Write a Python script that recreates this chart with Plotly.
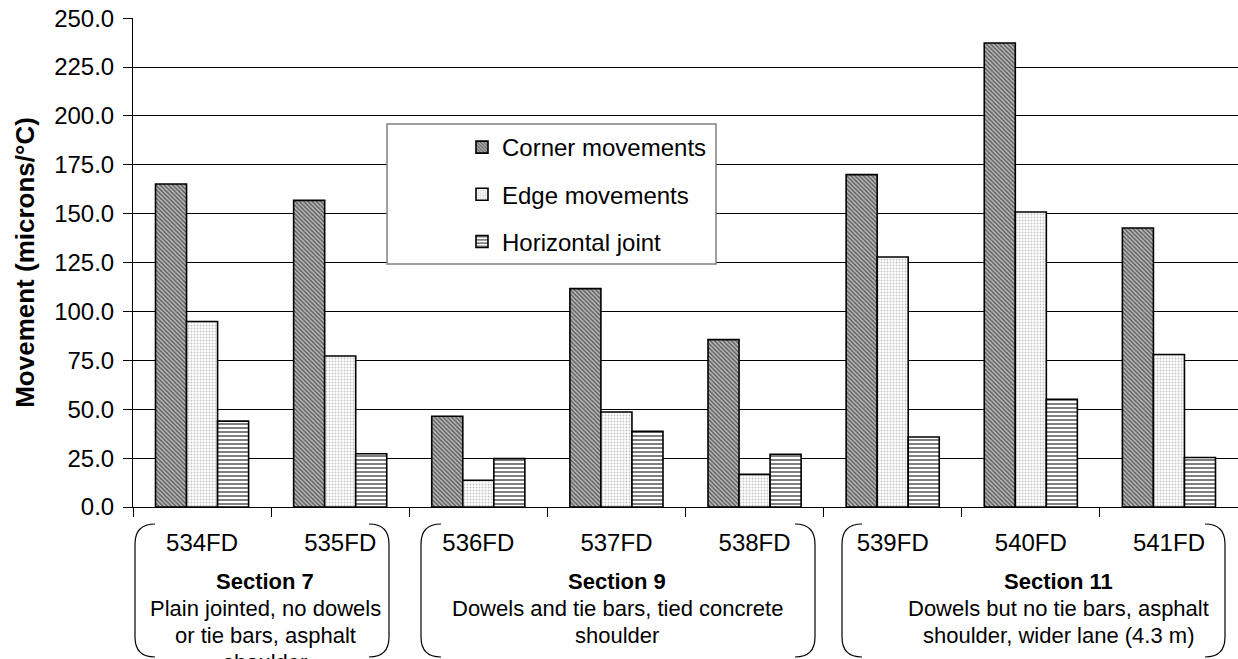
import plotly.graph_objects as go

categories = ["534FD", "535FD", "536FD", "537FD", "538FD", "539FD", "540FD", "541FD"]
corner = [165.2, 156.8, 46.4, 111.7, 85.6, 170.0, 237.3, 142.7]
edge = [94.9, 77.2, 13.7, 48.6, 16.7, 127.9, 150.9, 78.0]
horizontal = [43.9, 27.2, 24.8, 38.7, 27.0, 35.8, 55.1, 25.3]
series_names = ["Corner movements", "Edge movements", "Horizontal joint"]
y_ticks = [0, 25, 50, 75, 100, 125, 150, 175, 200, 225, 250]

sections = [
    ("Section 7", ["Plain jointed, no dowels", "or tie bars, asphalt", "shoulder"]),
    ("Section 9", ["Dowels and tie bars, tied concrete", "shoulder"]),
    ("Section 11", ["Dowels but no tie bars, asphalt", "shoulder, wider lane (4.3 m)"]),
]

W, H = 1238, 659
L, R, T, B = 133, 0, 18, 152
PW, PH = W - L - R, H - T - B
PLOT_LEFT = L
PLOT_BOTTOM = H - B
FONT = "Arial, Liberation Sans, sans-serif"


def px(x):
    return (x - PLOT_LEFT) / PW


def py(y):
    return (PLOT_BOTTOM - y) / PH


fig = go.Figure()
styles = [
    dict(shape="\\", fgcolor="black", bgcolor="#bdbdbd", size=3, solidity=0.5),
    dict(shape=".", fgcolor="#8a8a8a", bgcolor="white", size=3, solidity=0.35),
    dict(shape="-", fgcolor="black", bgcolor="white", size=4, solidity=0.5),
]
for name, vals, st in zip(series_names, [corner, edge, horizontal], styles):
    fig.add_trace(go.Bar(
        x=categories, y=vals, name=name, legendgroup=name,
        marker=dict(color=st["bgcolor"], line=dict(color="black", width=1.6), pattern=st),
    ))

shapes = []
# legend frame
shapes.append(dict(type="rect", xref="paper", yref="paper", x0=px(387), x1=px(716), y0=py(264), y1=py(124),
                   line=dict(color="#808080", width=1.5), fillcolor="white", layer="above"))

# double-bracket boxes under the axis
boxes = [(135, 389), (421, 815), (842, 1225)]
top, bot, r = 524, 657, 20
for x0, x1 in boxes:
    left = (f"M {px(x0 + r)},{py(top)} Q {px(x0)},{py(top)} {px(x0)},{py(top + r)} "
            f"L {px(x0)},{py(bot - r)} Q {px(x0)},{py(bot)} {px(x0 + r)},{py(bot)}")
    right = (f"M {px(x1 - r)},{py(top)} Q {px(x1)},{py(top)} {px(x1)},{py(top + r)} "
             f"L {px(x1)},{py(bot - r)} Q {px(x1)},{py(bot)} {px(x1 - r)},{py(bot)}")
    for p in (left, right):
        shapes.append(dict(type="path", path=p, xref="paper", yref="paper",
                           line=dict(color="black", width=1.2)))

annotations = []
centers = [265, 617, 1058]
for (title, lines), cx in zip(sections, centers):
    annotations.append(dict(text=f"<b>{title}</b>", x=px(cx), y=py(581), xref="paper", yref="paper",
                            showarrow=False, xanchor="center", yanchor="middle",
                            font=dict(family=FONT, size=22, color="black")))
    for i, ln in enumerate(lines):
        annotations.append(dict(text=ln, x=px(cx), y=py(608 + 27 * i), xref="paper", yref="paper",
                                showarrow=False, xanchor="center", yanchor="middle",
                                font=dict(family=FONT, size=22, color="black")))

fig.update_layout(
    width=W, height=H,
    margin=dict(l=L, r=R, t=T, b=B, autoexpand=False),
    paper_bgcolor="white", plot_bgcolor="white",
    barmode="group", bargap=0.326, bargroupgap=0,
    font=dict(family=FONT, size=22, color="black"),
    showlegend=True,
    legend=dict(x=px(462), y=py(125), xanchor="left", yanchor="top",
                bgcolor="rgba(0,0,0,0)", borderwidth=0,
                traceorder="grouped", tracegroupgap=13,
                font=dict(family=FONT, size=24, color="black")),
    shapes=shapes, annotations=annotations,
    xaxis=dict(type="category", tickson="boundaries", ticks="outside", ticklen=9, tickwidth=1,
               tickcolor="black", showline=True, linecolor="black", linewidth=1,
               showgrid=False, ticklabelstandoff=14,
               tickfont=dict(family=FONT, size=24, color="black")),
    yaxis=dict(range=[0, 250.1], tickvals=y_ticks, tickformat=".1f", ticks="outside", ticklen=9,
               tickcolor="black", showline=True, linecolor="black", linewidth=1,
               showgrid=True, gridcolor="black", gridwidth=1, zeroline=False,
               ticklabelstandoff=4, ticklabeloverflow="allow",
               tickfont=dict(family=FONT, size=24, color="black"),
               title=dict(text="<b>Movement (microns/°C)</b>", standoff=12,
                          font=dict(family=FONT, size=26, color="black"))),
)

fig.write_html("out.html", config={"displayModeBar": False},
               post_script="document.body.style.margin='0';")
